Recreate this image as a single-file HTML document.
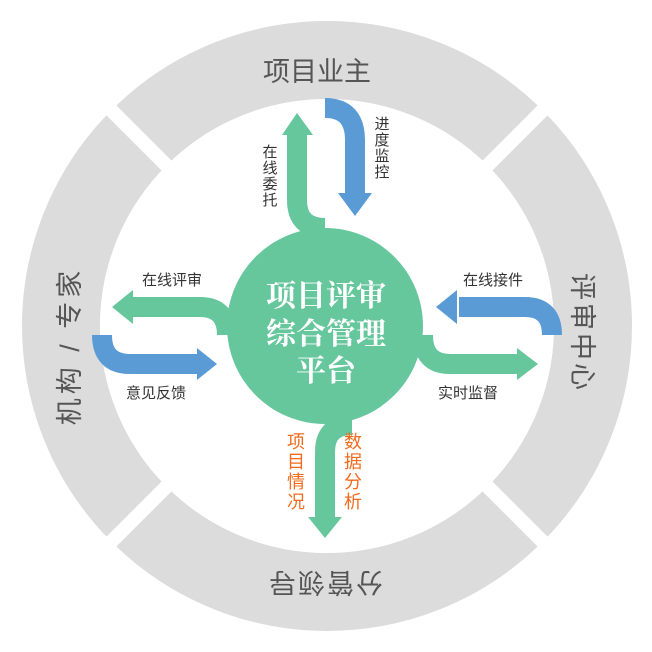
<!DOCTYPE html>
<html><head><meta charset="utf-8"><style>
html,body{margin:0;padding:0;background:#fff;}
svg{display:block;}
text{font-family:"Liberation Sans","Noto Sans CJK SC",sans-serif;}
</style></head><body>
<svg width="652" height="652" viewBox="0 0 652 652" xmlns="http://www.w3.org/2000/svg">
<circle cx="327" cy="326" r="266" fill="none" stroke="#dcdcdc" stroke-width="78"/>
<g stroke="#fff" stroke-width="14">
<line x1="327" y1="326" x2="90" y2="89"/>
<line x1="327" y1="326" x2="564" y2="89"/>
<line x1="327" y1="326" x2="90" y2="563"/>
<line x1="327" y1="326" x2="564" y2="563"/>
</g>
<circle cx="327" cy="326" r="227" fill="#fff"/>
<g font-size="27" fill="#555" text-anchor="middle">
<text x="317" y="81">项目业主</text>
<text transform="translate(583,333) rotate(90)" y="10" letter-spacing="3">评审中心</text>
<text transform="translate(69,346) rotate(-90)" y="10" letter-spacing="4">机构 / 专家</text>
<text transform="translate(325,583) rotate(180)" y="10" letter-spacing="2">分管领导</text>
</g>
<g fill="none" stroke-width="20">
<path d="M297,132 L297,200 Q297,228 325,228" stroke="#66c69c"/>
<path d="M325,108 Q355,108 355,140 L355,195" stroke="#5b9bd5"/>
<path d="M131,307 L200,307 Q227,307 227,335" stroke="#66c69c"/>
<path d="M102,335 Q102,364 130,364 L199,364" stroke="#5b9bd5"/>
<path d="M459,307 L525,307 Q552,307 552,335" stroke="#5b9bd5"/>
<path d="M423,335 Q423,364 450,364 L519,364" stroke="#66c69c"/>
<path d="M352,425 Q325,425 325,452 L325,519" stroke="#66c69c"/>
</g>
<polygon points="297,113 282,135 313,135" fill="#66c69c"/>
<polygon points="355,216 338,193 372,193" fill="#5b9bd5"/>
<polygon points="112,307 133,290 133,324" fill="#66c69c"/>
<polygon points="217,364 197,348 197,380" fill="#5b9bd5"/>
<polygon points="436,307 457,290 457,324" fill="#5b9bd5"/>
<polygon points="538,364 517,348 517,380" fill="#66c69c"/>
<polygon points="325,538 308,517 342,517" fill="#66c69c"/>
<circle cx="325" cy="326" r="98" fill="#66c69c"/>
<g font-weight="bold" font-size="30" fill="#fff" text-anchor="middle">
<text x="326" y="306" style="font-family:'Liberation Serif','Noto Serif CJK SC',serif">项目评审</text>
<text x="326" y="344" style="font-family:'Liberation Serif','Noto Serif CJK SC',serif">综合管理</text>
<text x="326" y="381" style="font-family:'Liberation Serif','Noto Serif CJK SC',serif">平台</text>
</g>
<g font-size="15" fill="#333" text-anchor="middle">
<text x="172" y="285">在线评审</text>
<text x="156" y="398">意见反馈</text>
<text x="493" y="285">在线接件</text>
<text x="468" y="398">实时监督</text>
<text x="270" y="157">在</text><text x="270" y="173">线</text><text x="270" y="189">委</text><text x="270" y="205">托</text>
<text x="382" y="129">进</text><text x="382" y="145">度</text><text x="382" y="161">监</text><text x="382" y="177">控</text>
</g>
<g font-size="18" fill="#f26b1d" text-anchor="middle">
<text x="296" y="448">项</text><text x="296" y="468">目</text><text x="296" y="488">情</text><text x="296" y="508">况</text>
<text x="353" y="448">数</text><text x="353" y="468">据</text><text x="353" y="488">分</text><text x="353" y="508">析</text>
</g>
</svg>
</body></html>
